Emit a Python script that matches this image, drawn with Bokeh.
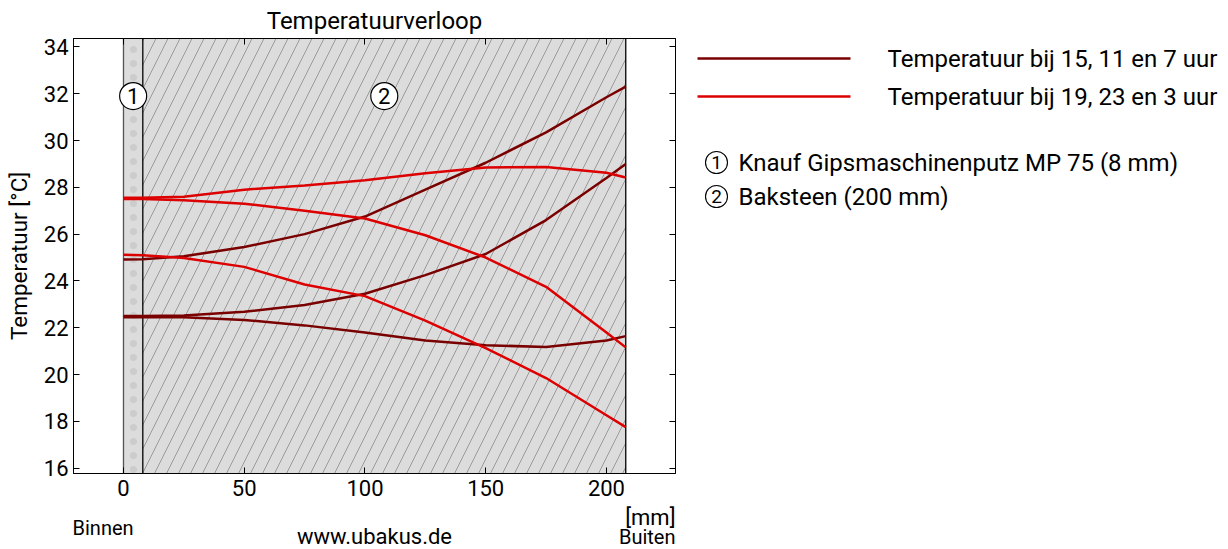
from bokeh.plotting import figure
from bokeh.layouts import row, column
from bokeh.models import (Range1d, LinearAxis, FixedTicker, BoxAnnotation, Span,
                          CustomJSTickFormatter)
from bokeh.embed import file_html
from bokeh.resources import INLINE
from bokeh.core.properties import value

FONT = "Roboto"

# ---- data ----
position_mm = [0, 8, 25, 50, 75, 100, 125, 150, 175, 200, 208]

# Temperatuur bij 15, 11 en 7 uur (dark red)
t_dark_1 = [24.92, 24.93, 25.05, 25.45, 26.00, 26.75, 27.90, 29.05, 30.35, 31.85, 32.30]
t_dark_2 = [22.50, 22.50, 22.52, 22.68, 22.97, 23.45, 24.25, 25.15, 26.60, 28.40, 29.00]
t_dark_3 = [22.45, 22.45, 22.45, 22.33, 22.10, 21.80, 21.45, 21.25, 21.18, 21.45, 21.64]

# Temperatuur bij 19, 23 en 3 uur (red)
t_red_1 = [27.55, 27.55, 27.60, 27.90, 28.08, 28.30, 28.60, 28.85, 28.87, 28.62, 28.42]
t_red_2 = [27.50, 27.50, 27.45, 27.30, 27.00, 26.67, 25.95, 25.00, 23.75, 21.80, 21.16]
t_red_3 = [25.12, 25.10, 24.98, 24.60, 23.85, 23.35, 22.30, 21.13, 19.85, 18.26, 17.75]

layer_edges = [0, 8, 208]
layer_numbers = ["1", "2"]
layer_names = ["Knauf Gipsmaschinenputz MP 75 (8 mm)", "Baksteen (200 mm)"]
series_labels = ["Temperatuur bij 15, 11 en 7 uur", "Temperatuur bij 19, 23 en 3 uur"]
series_colors = ["#7a0000", "#dd0000"]

x_ticks = [0, 50, 100, 150, 200]
y_ticks = [16, 18, 20, 22, 24, 26, 28, 30, 32, 34]
X_MIN, X_MAX = -20.7, 228.6
Y_MIN, Y_MAX = 15.77, 34.36
LAYER_NUMBER_Y = 31.9

# ---- layout sizes (px) ----
TOTAL_W, TOTAL_H = 1228, 549
BORDER_L, FRAME_W, BORDER_R = 73, 602, 10
BORDER_T, FRAME_H, BORDER_B = 38, 435, 32
MAIN_W = BORDER_L + FRAME_W + BORDER_R
MAIN_H = BORDER_T + FRAME_H + BORDER_B
SIDE_W = TOTAL_W - MAIN_W
STRIP_H = TOTAL_H - MAIN_H
MM_PER_PX = (X_MAX - X_MIN) / FRAME_W

# ---------------- main chart ----------------
p = figure(width=MAIN_W, height=MAIN_H,
           x_range=Range1d(X_MIN, X_MAX), y_range=Range1d(Y_MIN, Y_MAX),
           output_backend="svg", toolbar_location=None,
           min_border_left=BORDER_L, min_border_top=BORDER_T,
           min_border_bottom=BORDER_B, min_border_right=BORDER_R,
           title="Temperatuurverloop")
p.xgrid.visible = False
p.ygrid.visible = False
p.outline_line_color = "black"
p.outline_line_width = 1

p.title.align = "center"
p.title.text_font = FONT
p.title.text_font_size = "24px"
p.title.text_font_style = "normal"
p.title.text_color = "black"
p.title.standoff = 8

empty_fmt = CustomJSTickFormatter(code="return ''")

def style_axis(ax, ticks, show_labels=True):
    ax.ticker = FixedTicker(ticks=ticks)
    ax.major_tick_in = 6
    ax.major_tick_out = 0
    ax.minor_tick_line_color = None
    ax.axis_line_color = "black"
    ax.major_tick_line_color = "black"
    ax.major_label_text_font = FONT
    ax.major_label_text_font_size = "22px"
    ax.major_label_text_color = "black"
    if not show_labels:
        ax.formatter = empty_fmt
        ax.major_label_standoff = 0

style_axis(p.xaxis[0], x_ticks)
p.xaxis[0].major_label_standoff = 6
style_axis(p.yaxis[0], y_ticks)
p.yaxis[0].major_label_standoff = 5
p.yaxis[0].axis_label = "Temperatuur [°C]"
p.yaxis[0].axis_label_text_font = FONT
p.yaxis[0].axis_label_text_font_size = "22.5px"
p.yaxis[0].axis_label_text_font_style = "normal"
p.yaxis[0].axis_label_text_color = "black"
p.yaxis[0].axis_label_standoff = 9

top_ax = LinearAxis()
style_axis(top_ax, x_ticks, show_labels=False)
p.add_layout(top_ax, "above")
right_ax = LinearAxis()
style_axis(right_ax, y_ticks, show_labels=False)
p.add_layout(right_ax, "right")

# layers
p.add_layout(BoxAnnotation(left=layer_edges[0], right=layer_edges[1],
                           fill_color="#dcdcdc", fill_alpha=1.0,
                           hatch_pattern="dot", hatch_color="#8a8a8a", hatch_alpha=0.2,
                           hatch_scale=14, hatch_weight=0.8,
                           line_alpha=0, level="underlay"))
p.add_layout(BoxAnnotation(left=layer_edges[1], right=layer_edges[2],
                           fill_color="#dcdcdc", fill_alpha=1.0,
                           hatch_pattern="/", hatch_color="#9a9a9a", hatch_alpha=1.0,
                           hatch_scale=24, hatch_weight=1,
                           line_alpha=0, level="underlay"))
for i, edge in enumerate(layer_edges):
    p.add_layout(Span(location=edge, dimension="height",
                      line_color="#555555" if i == 0 else "black", line_width=1.3,
                      level="underlay"))

centers = [(layer_edges[i] + layer_edges[i + 1]) / 2 for i in range(len(layer_numbers))]
p.scatter(x=centers, y=[LAYER_NUMBER_Y] * len(centers), size=27, fill_color="white",
          line_color="black", line_width=1.2)
p.text(x=centers, y=[LAYER_NUMBER_Y] * len(centers), text=layer_numbers,
       text_align="center", text_baseline="middle", text_font=value(FONT),
       text_font_size="22px", text_color="black")

# curves
p.multi_line(xs=[position_mm] * 3, ys=[t_dark_1, t_dark_2, t_dark_3],
             line_color=series_colors[0], line_width=2.5)
p.multi_line(xs=[position_mm] * 3, ys=[t_red_1, t_red_2, t_red_3],
             line_color=series_colors[1], line_width=2.5)

# ---------------- side panel: legend + layer key ----------------
# (the row aligns this panel's frame with the chart frame; y is measured down from the frame top)
side = figure(width=SIDE_W, height=MAIN_H, x_range=Range1d(0, SIDE_W),
              y_range=Range1d(FRAME_H, 0),
              output_backend="svg", toolbar_location=None,
              x_axis_location=None, y_axis_location=None,
              min_border_left=0, min_border_right=0,
              min_border_top=BORDER_T, min_border_bottom=BORDER_B)
side.outline_line_color = None
side.xgrid.visible = False
side.ygrid.visible = False

LEG_X0, LEG_X1, LEG_TEXT_X = 12, 165, 202
leg_rows = [20, 58]
side.multi_line(xs=[[LEG_X0, LEG_X1]] * len(leg_rows), ys=[[y, y] for y in leg_rows],
                line_color=series_colors, line_width=2.5)
side.text(x=[LEG_TEXT_X] * len(leg_rows), y=leg_rows, text=series_labels, text_align="left",
          text_baseline="middle", text_font=value(FONT), text_font_size="24px",
          text_color="black")

key_x = [31] * len(layer_numbers)
key_y = [124, 158]
side.scatter(x=key_x, y=key_y, size=22, fill_color="white", line_color="black", line_width=1.1)
side.text(x=key_x, y=key_y, text=layer_numbers, text_align="center", text_baseline="middle",
          text_font=value(FONT), text_font_size="19px", text_color="black")
side.text(x=[53] * len(layer_names), y=key_y, text=layer_names, text_align="left",
          text_baseline="middle", text_font=value(FONT), text_font_size="24px",
          text_color="black")

# ---------------- bottom strip: Binnen / www.ubakus.de / [mm] / Buiten ----------------
strip = figure(width=MAIN_W, height=STRIP_H,
               x_range=Range1d(X_MIN - BORDER_L * MM_PER_PX, X_MAX + BORDER_R * MM_PER_PX),
               y_range=Range1d(STRIP_H, 0), output_backend="svg", toolbar_location=None,
               x_axis_location=None, y_axis_location=None,
               min_border_left=0, min_border_right=0,
               min_border_top=0, min_border_bottom=0)
strip.outline_line_color = None
strip.xgrid.visible = False
strip.ygrid.visible = False
strip.text(x=[X_MIN - 0.4], y=[22], text=["Binnen"], text_align="left", text_baseline="middle",
           text_font=value(FONT), text_font_size="20px")
strip.text(x=[(X_MIN + X_MAX) / 2], y=[31], text=["www.ubakus.de"], text_align="center",
           text_baseline="middle", text_font=value(FONT), text_font_size="22px")
strip.text(x=[X_MAX], y=[12], text=["[mm]"], text_align="right", text_baseline="middle",
           text_font=value(FONT), text_font_size="22px")
strip.text(x=[X_MAX], y=[31], text=["Buiten"], text_align="right", text_baseline="middle",
           text_font=value(FONT), text_font_size="20px")

layout = column(row(p, side, spacing=0), strip, spacing=0)
open("out.html", "w").write(file_html(layout, INLINE))
